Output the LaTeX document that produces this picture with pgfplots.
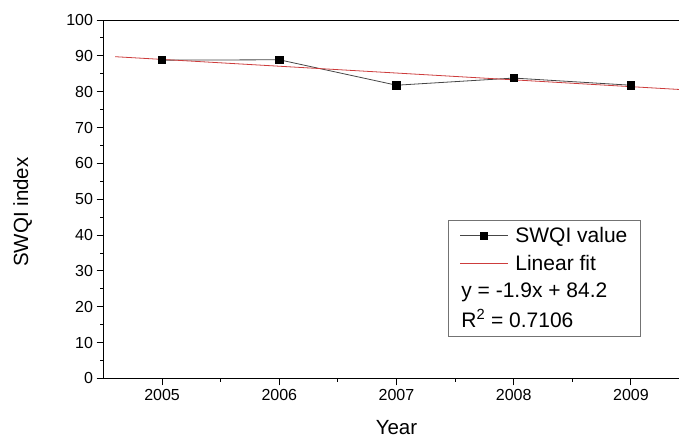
\documentclass[border=0pt]{standalone}
\usepackage{pgfplots}
\pgfplotsset{compat=1.18}
\usepackage{fontspec}
\setmainfont{Liberation Sans}
\definecolor{fitred}{RGB}{205,60,60}
\definecolor{datagray}{RGB}{70,70,70}
\begin{document}
\begin{tikzpicture}
\begin{axis}[
  scale only axis, width=586pt, height=358.4pt,
  xmin=2004.5, xmax=2009.5, ymin=0, ymax=100,
  xtick={2005,2006,2007,2008,2009}, ytick={0,10,...,100},
  minor x tick num=1, minor y tick num=1,
  tick align=outside, xtick pos=bottom, ytick pos=left,
  major tick length=7pt, minor tick length=3.5pt,
  axis line style={line width=0.9pt}, tick style={line width=0.9pt, black},
  /pgf/number format/assume math mode=true,
  /pgf/number format/1000 sep={},
  ticklabel style={font=\fontsize{16}{19}\selectfont},
  xlabel={Year}, ylabel={SWQI index},
  label style={font=\fontsize{20.5}{24}\selectfont},
  xlabel style={at={(axis description cs:0.5,-0.157)}, anchor=base},
  ylabel style={at={(axis description cs:-0.138,0.464)}, anchor=center},
  legend style={at={(axis description cs:0.5884,0.4428)}, anchor=north west,
    draw=gray!90!black, line width=0.6pt, font=\fontsize{21}{24.5}\selectfont,
    row sep=6.8pt, inner xsep=11pt, inner ysep=5.5pt},
  legend cell align=left,
  legend image code/.code={\draw[mark repeat=2,mark phase=2,#1] plot coordinates {(0pt,0pt) (24pt,0pt) (48pt,0pt)};},
]
\addplot[datagray, line width=0.8pt, mark=square*, mark size=3.7pt, mark options={black, fill=black, solid}] coordinates {
  (2005,88.8) (2006,88.9) (2007,81.8) (2008,83.8) (2009,81.8)};
\addlegendentry{\hspace{5pt}SWQI value}
\addplot[fitred, line width=0.8pt] coordinates {(2004.6,89.76) (2009.5,80.45)};
\addlegendentry{\hspace{5pt}Linear fit}
\addlegendimage{empty legend}
\addlegendentry{\hspace{-49pt}y = -1.9x + 84.2}
\addlegendimage{empty legend}
\addlegendentry{\hspace{-49pt}R\textsuperscript{2} = 0.7106}
\end{axis}
\pgfresetboundingbox
\useasboundingbox (-103.5pt,-60.3pt) rectangle (575.5pt,378.4pt);
\end{tikzpicture}
\end{document}
